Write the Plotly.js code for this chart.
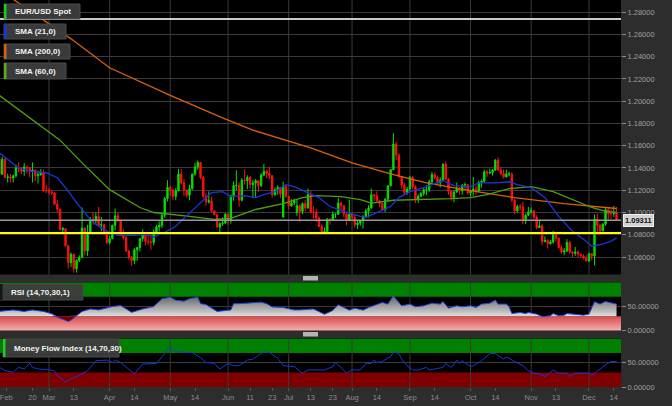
<!DOCTYPE html>
<html><head><meta charset="utf-8">
<script src="https://cdn.plot.ly/plotly-3.0.1.min.js"></script>
<style>html,body{margin:0;padding:0;background:#2d2d2d;overflow:hidden}#chart{width:672px;height:406px}</style>
</head><body><div id="chart"></div>
<script>
// ---------- DATA (EUR/USD daily, Feb 2 - Dec 15 2015) ----------
const FIRST_DAY = '2015-02-02', LAST_DAY = '2015-12-15';
const openP = [
 1.1290,1.1345,1.1480,1.1345,1.1477,1.1315,1.1320,1.1310,1.1330,1.1400,1.1390,1.1370,1.1410,1.1400,1.1375,1.1380,1.1330,1.1340,1.1360,1.1200,
 1.1195,1.1185,1.1175,1.1075,1.1030,1.0845,1.0855,1.0700,1.0550,1.0625,1.0495,1.0570,1.0595,1.0860,1.0655,1.0820,1.0940,1.0925,1.0965,1.0885,1.0890,1.0830,
 1.0730,1.0765,1.0885,1.0970,1.0925,1.0800,1.0775,1.0655,1.0600,1.0570,1.0665,1.0685,1.0765,1.0805,1.0740,1.0735,1.0730,1.0825,1.0870,1.0885,1.0975,1.1125,
 1.1225,1.1200,1.1145,1.1195,1.1345,1.1265,1.1200,1.1155,1.1215,1.1345,1.1410,1.1450,1.1315,1.1145,1.1095,1.1105,1.1015,1.0980,1.0870,1.0900,1.0905,
 1.0985,1.0925,1.1150,1.1240,1.1245,1.1110,1.1290,1.1285,1.1315,1.1250,1.1265,1.1285,1.1240,1.1335,1.1370,1.1350,1.1330,1.1160,1.1205,1.1225,1.0960,1.1235,
 1.1145,1.1060,1.1085,1.1000,1.1060,1.1010,1.1080,1.1040,1.1160,1.1005,1.1005,1.0950,1.0875,1.0825,1.0830,1.0940,1.0930,1.0985,1.0985,1.1085,1.1060,1.0985,1.0930,
 1.0985,1.0955,1.0890,1.0905,1.0925,1.0965,1.1015,1.1040,1.1160,1.1150,1.1105,1.1080,1.1025,1.1120,1.1240,1.1385,1.1615,1.1515,1.1320,1.1245,1.1180,
 1.1210,1.1315,1.1230,1.1120,1.1145,1.1170,1.1205,1.1205,1.1275,1.1340,1.1315,1.1265,1.1290,1.1435,1.1300,1.1190,1.1135,1.1185,1.1220,1.1195,1.1245,1.1250,
 1.1175,1.1195,1.1210,1.1195,1.1270,1.1280,1.1365,1.1355,1.1360,1.1380,1.1470,1.1380,1.1350,1.1320,1.1345,1.1345,1.1110,1.1015,1.1055,1.1050,1.0925,1.0975,
 1.1005,1.1015,1.0960,1.0865,1.0880,1.0740,1.0750,1.0720,1.0735,1.0815,1.0770,1.0685,1.0645,1.0655,1.0730,1.0645,1.0635,1.0645,1.0625,1.0610,1.0590,
 1.0565,1.0630,1.0610,1.0940,1.0885,1.0835,1.0895,1.1025,1.0990,1.0990,1.0995];
const highP = [
 1.1365,1.1534,1.1498,1.1500,1.1488,1.1348,1.1345,1.1340,1.1430,1.1450,1.1410,1.1445,1.1425,1.1410,1.1450,1.1385,1.1375,1.1390,1.1385,1.1245,
 1.1220,1.1205,1.1185,1.1115,1.1035,1.0870,1.0860,1.0710,1.0640,1.0630,1.0580,1.0615,1.1045,1.0865,1.0890,1.0960,1.1000,1.1000,1.1050,1.0960,1.0900,1.0840,
 1.0790,1.0890,1.1035,1.1000,1.0935,1.0850,1.0790,1.0665,1.0605,1.0680,1.0685,1.0770,1.0850,1.0815,1.0790,1.0800,1.0850,1.0890,1.0920,1.0990,1.1140,1.1290,
 1.1240,1.1215,1.1220,1.1390,1.1390,1.1300,1.1205,1.1250,1.1350,1.1445,1.1467,1.1450,1.1330,1.1175,1.1190,1.1145,1.1020,1.0990,1.0915,1.0955,1.0995,
 1.0995,1.1160,1.1280,1.1380,1.1270,1.1310,1.1385,1.1335,1.1330,1.1290,1.1300,1.1290,1.1355,1.1436,1.1385,1.1410,1.1335,1.1225,1.1245,1.1230,1.1278,1.1245,
 1.1150,1.1120,1.1125,1.1120,1.1075,1.1090,1.1110,1.1215,1.1200,1.1055,1.1035,1.0965,1.0895,1.0865,1.0950,1.0950,1.1010,1.0990,1.1130,1.1095,1.1070,1.0995,1.1115,
 1.0995,1.0980,1.0925,1.0930,1.0975,1.1035,1.1065,1.1215,1.1165,1.1190,1.1115,1.1090,1.1130,1.1245,1.1390,1.1714,1.1635,1.1535,1.1325,1.1265,1.1230,
 1.1330,1.1330,1.1245,1.1165,1.1185,1.1220,1.1245,1.1295,1.1365,1.1360,1.1330,1.1315,1.1440,1.1460,1.1310,1.1200,1.1200,1.1270,1.1230,1.1255,1.1270,1.1255,
 1.1205,1.1320,1.1245,1.1285,1.1295,1.1385,1.1385,1.1395,1.1390,1.1480,1.1495,1.1405,1.1385,1.1385,1.1365,1.1360,1.1125,1.1070,1.1075,1.1095,1.0990,1.1050,
 1.1045,1.1025,1.0975,1.0930,1.0895,1.0785,1.0760,1.0755,1.0835,1.0825,1.0775,1.0705,1.0680,1.0760,1.0745,1.0650,1.0690,1.0660,1.0630,1.0625,1.0620,
 1.0640,1.0635,1.0982,1.0990,1.0895,1.0905,1.1043,1.1045,1.1030,1.1060,1.1050];
const lowP = [
 1.1270,1.1305,1.1340,1.1335,1.1310,1.1270,1.1270,1.1270,1.1315,1.1360,1.1345,1.1330,1.1350,1.1315,1.1270,1.1280,1.1260,1.1330,1.1185,1.1175,
 1.1160,1.1160,1.1065,1.1000,1.0840,1.0820,1.0695,1.0495,1.0510,1.0460,1.0460,1.0555,1.0595,1.0615,1.0610,1.0815,1.0890,1.0900,1.0880,1.0830,1.0800,1.0715,
 1.0715,1.0760,1.0840,1.0920,1.0790,1.0760,1.0645,1.0575,1.0520,1.0535,1.0565,1.0650,1.0740,1.0705,1.0710,1.0665,1.0705,1.0810,1.0830,1.0860,1.0950,1.1100,
 1.1150,1.1110,1.1110,1.1190,1.1250,1.1150,1.1135,1.1110,1.1200,1.1330,1.1385,1.1300,1.1130,1.1060,1.1080,1.1000,1.0975,1.0865,1.0820,1.0880,1.0895,
 1.0890,1.0900,1.1105,1.1200,1.1050,1.1100,1.1250,1.1210,1.1215,1.1130,1.1140,1.1185,1.1230,1.1330,1.1310,1.1300,1.1135,1.1150,1.1160,1.1130,1.0955,1.1135,
 1.1030,1.1050,1.1065,1.0970,1.0915,1.0985,1.1010,1.1035,1.0990,1.0945,1.0915,1.0870,1.0810,1.0810,1.0825,1.0890,1.0925,1.0950,1.0980,1.1010,1.0960,1.0885,1.0920,
 1.0925,1.0865,1.0850,1.0880,1.0855,1.0955,1.0955,1.1035,1.1105,1.1095,1.1050,1.1015,1.1005,1.1100,1.1235,1.1380,1.1470,1.1315,1.1215,1.1155,1.1160,
 1.1205,1.1210,1.1085,1.1085,1.1140,1.1150,1.1155,1.1185,1.1265,1.1300,1.1245,1.1225,1.1285,1.1290,1.1160,1.1105,1.1090,1.1175,1.1160,1.1160,1.1215,1.1160,
 1.1145,1.1150,1.1160,1.1180,1.1225,1.1265,1.1320,1.1345,1.1330,1.1375,1.1375,1.1335,1.1305,1.1315,1.1325,1.1095,1.0985,1.1000,1.1015,1.0895,1.0895,1.0970,
 1.0990,1.0940,1.0850,1.0860,1.0705,1.0730,1.0675,1.0710,1.0720,1.0740,1.0675,1.0630,1.0615,1.0645,1.0630,1.0600,1.0610,1.0600,1.0595,1.0580,1.0560,
 1.0555,1.0570,1.0525,1.0800,1.0795,1.0830,1.0880,1.0925,1.0940,1.0960,1.0925];
const closeP = [
 1.1345,1.1480,1.1345,1.1477,1.1315,1.1320,1.1310,1.1330,1.1400,1.1390,1.1370,1.1410,1.1400,1.1375,1.1380,1.1330,1.1340,1.1360,1.1200,1.1195,
 1.1185,1.1175,1.1075,1.1030,1.0845,1.0855,1.0700,1.0550,1.0625,1.0495,1.0570,1.0595,1.0860,1.0655,1.0820,1.0940,1.0925,1.0965,1.0885,1.0890,1.0830,1.0730,
 1.0765,1.0885,1.0970,1.0925,1.0800,1.0775,1.0655,1.0600,1.0570,1.0665,1.0685,1.0765,1.0805,1.0740,1.0735,1.0730,1.0825,1.0870,1.0885,1.0975,1.1125,1.1225,
 1.1200,1.1145,1.1195,1.1345,1.1265,1.1200,1.1155,1.1215,1.1345,1.1410,1.1450,1.1315,1.1145,1.1095,1.1105,1.1015,1.0980,1.0870,1.0900,1.0905,1.0985,
 1.0925,1.1150,1.1240,1.1245,1.1110,1.1290,1.1285,1.1315,1.1250,1.1265,1.1285,1.1240,1.1335,1.1370,1.1350,1.1330,1.1160,1.1205,1.1225,1.1165,1.1235,1.1145,
 1.1060,1.1085,1.1105,1.1060,1.1010,1.1080,1.1040,1.1160,1.1005,1.1005,1.0950,1.0875,1.0825,1.0830,1.0940,1.0930,1.0985,1.0985,1.1085,1.1060,1.0985,1.0930,1.0985,
 1.0955,1.0890,1.0905,1.0925,1.0965,1.1015,1.1040,1.1160,1.1150,1.1105,1.1080,1.1025,1.1120,1.1240,1.1385,1.1615,1.1515,1.1320,1.1245,1.1180,1.1210,
 1.1315,1.1230,1.1120,1.1145,1.1170,1.1205,1.1205,1.1275,1.1340,1.1315,1.1265,1.1290,1.1435,1.1300,1.1190,1.1135,1.1185,1.1220,1.1195,1.1245,1.1250,1.1175,
 1.1195,1.1210,1.1195,1.1270,1.1280,1.1365,1.1355,1.1360,1.1380,1.1470,1.1380,1.1350,1.1320,1.1345,1.1345,1.1110,1.1015,1.1055,1.1050,1.0925,1.0975,1.1005,
 1.1015,1.0960,1.0865,1.0880,1.0740,1.0750,1.0720,1.0735,1.0815,1.0770,1.0685,1.0645,1.0655,1.0730,1.0645,1.0635,1.0645,1.0625,1.0610,1.0590,1.0565,
 1.0630,1.0610,1.0940,1.0885,1.0835,1.0895,1.1025,1.0990,1.0990,1.0995,1.09311];

// indicator samples: trading-day number (0 = Feb 2) and value
const sma21Day = [2,6,9,14,19,23,26,30,34,37,41,45,50,55,58,62,66,69,73,77,79,83,86,91,95,98,102,106,109,114,118,122,127,133,135,140,144,147,151,156,161,163,167,173,176,182,187,190,195,200,205,210,215,217,221,224,226];
const sma21Val = [1.1535,1.1455,1.1400,1.1366,1.1357,1.1312,1.1223,1.1090,1.0965,1.0893,1.0831,1.0795,1.0795,1.0804,1.0780,1.0822,1.0876,1.0947,1.1045,1.1134,1.1178,1.1187,1.1143,1.1152,1.1134,1.1160,1.1187,1.1250,1.1232,1.1180,1.1134,1.1054,1.1010,1.0965,1.0956,1.1010,1.1054,1.1134,1.1187,1.1223,1.1267,1.1285,1.1241,1.1232,1.1267,1.1267,1.1276,1.1250,1.1223,1.1134,1.0965,1.0831,1.0742,1.0697,1.0715,1.0742,1.0772];
const sma60Day = [2,19,24,32,42,53,58,71,80,86,95,105,112,117,126,133,137,145,157,166,173,179,187,195,203,210,217,222,226];
const sma60Val = [1.2052,1.1740,1.1650,1.1446,1.1205,1.1045,1.1000,1.0965,1.0938,1.0947,1.1027,1.1080,1.1134,1.1152,1.1143,1.1116,1.1085,1.1110,1.1116,1.1125,1.1134,1.1160,1.1214,1.1232,1.1187,1.1116,1.1045,1.1010,1.1000];
const sma200Day = [2,16,28,42,64,83,94,115,130,144,157,173,189,207,219,226];
const sma200Val = [1.3000,1.2760,1.2560,1.2300,1.2052,1.1850,1.1740,1.1580,1.1446,1.1348,1.1267,1.1196,1.1134,1.1080,1.1054,1.1036];
const rsiDay = [2,7,11,14,18,21,23,27,28,30,32,35,38,43,46,50,54,58,61,64,66,69,71,74,75,77,81,86,87,89,92,97,99,101,105,109,111,116,120,123,125,127,129,131,134,136,139,141,143,144,145,146,148,151,153,156,159,162,163,165,168,170,173,175,177,180,182,183,186,187,188,191,193,194,197,199,202,203,205,207,208,210,214,216,218,220,222,225,226];
const rsiVal = [40,43,40,43,40,35,28,19,22,31,40,45,43,50,52,38,45,50,66,69,63,61,66,69,56,54,40,43,56,56,57,59,56,49,48,43,43,45,34,42,53.6,48,42.6,46.7,42.6,48,55,58.4,55,65,72,65,51.5,55,49.5,51.5,57,55,60.4,46.7,51.5,49.5,51.5,48,55,57,63.2,55,55,49.5,35.7,37.8,35.7,37.8,34.4,28.9,30.9,35.7,30.9,32.3,35.7,34.4,32.3,34.4,59.8,55,60.4,56.3,55];
const mfiDay = [2,4,7,9,11,13,14,16,19,22,23,26,28,31,34,37,41,43,44,46,51,54,59,64,66,72,75,77,80,82,85,87,89,92,94,98,100,103,105,109,112,114,120,123,124,126,128,130,133,135,137,138,139,141,143,144,145,147,148,150,152,154,157,158,160,163,164,166,168,169,170,173,174,177,180,182,185,186,189,192,194,196,198,200,203,205,208,209,211,216,217,220,222,224,226];
const mfiVal = [40.5,33.8,30.4,40.5,37.2,48.6,40.5,37.2,35.8,33.8,23.7,10.1,17,23.7,33.8,54,55.5,50.6,55.5,50.6,27,47.4,48.6,82.4,72.9,70.9,60.7,50.6,48.6,37.2,48.6,43.9,43.9,55.5,57.5,72.9,70.9,59.5,43.9,41.9,28.3,35.2,35.2,41.9,50.6,40.5,28.3,35.2,35.2,48.6,48.6,55.5,50.6,52.6,59.5,62.1,72.9,68.8,57.5,43.9,35.2,35.2,40.5,35.2,37.2,40.5,48.6,40.5,55.5,48.6,54,41.9,43.9,54,68.8,68.8,57.5,62.1,52.6,43.9,33.8,28.3,27,21.7,35.2,28.3,28.3,21.7,28.3,28.3,23.7,37.2,45.9,52.6,52.6];

const levelWhite = 1.2738, levelYellow = 1.0815;
const rsiBands = {low: 30, high: 70}, mfiBands = {low: 30, high: 70};
const tickDates = ['2015-02-06 12:00','2015-02-20','2015-03-02','2015-03-13','2015-04-01','2015-04-14','2015-05-01','2015-05-14','2015-06-01','2015-06-11','2015-06-23','2015-07-01','2015-07-13','2015-07-23','2015-08-03','2015-08-14','2015-09-01','2015-09-14','2015-10-01','2015-10-14','2015-11-02','2015-11-13','2015-12-01','2015-12-14'];
const tickText = ['Feb','20','Mar','13','Apr','14','May','14','Jun','11','23','Jul','13','23','Aug','14','Sep','14','Oct','14','Nov','13','Dec','14'];
const monthStarts = ['2015-03-02','2015-04-01','2015-05-01','2015-06-01','2015-07-01','2015-08-03','2015-09-01','2015-10-01','2015-11-02','2015-12-01'];
const legendNames = ['EUR/USD Spot','SMA (21,0)','SMA (200,0)','SMA (60,0)'];

// ---------- BUILD ----------
function tradingDays(start, end){
  const out=[]; let d=new Date(start+'T00:00:00Z'); const e=new Date(end+'T00:00:00Z');
  while(d<=e){ const wd=d.getUTCDay(); if(wd!==0&&wd!==6) out.push(d.toISOString().slice(0,10)); d=new Date(d.getTime()+86400000); }
  return out;
}
const days = tradingDays(FIRST_DAY, LAST_DAY);
const dx = idx => idx.map(i => days[i]);
const lastPrice = closeP[closeP.length-1];

const W=672,H=406,MR=51,MB=19;
const PW=W-MR, PH=H-MB;
const px = p => p/PW, py = p => (PH-p)/PH;
const xRange = ['2015-02-04 05:08','2015-12-16 14:50'];

const FONT = 'Liberation Sans, Arial, sans-serif';
const C = {green:'#00e000', red:'#ff1010', blue:'#1a36d8', orange:'#d9600f', olive:'#4f9e14', grid:'#3a3a3a', tick:'#a0a0a0'};

const traces = [];
traces.push({type:'candlestick', x:days, open:openP, high:highP, low:lowP, close:closeP, xaxis:'x', yaxis:'y',
  increasing:{line:{color:C.green,width:1}, fillcolor:C.green},
  decreasing:{line:{color:C.red,width:1}, fillcolor:C.red}, whiskerwidth:0, hoverinfo:'skip'});
traces.push({type:'scatter', mode:'lines', x:dx(sma200Day), y:sma200Val, line:{color:C.orange,width:1.3}, xaxis:'x', yaxis:'y'});
traces.push({type:'scatter', mode:'lines', x:dx(sma60Day), y:sma60Val, line:{color:C.olive,width:1.3}, xaxis:'x', yaxis:'y'});
traces.push({type:'scatter', mode:'lines', x:dx(sma21Day), y:sma21Val, line:{color:C.blue,width:1.3}, xaxis:'x', yaxis:'y'});

// RSI panel
const rsiX = dx(rsiDay);
const base30 = {type:'scatter', mode:'lines', x:[rsiX[0],rsiX[rsiX.length-1]], y:[rsiBands.low,rsiBands.low], line:{width:0}, xaxis:'x', yaxis:'y2'};
traces.push({type:'scatter', mode:'lines', x:xRange, y:[rsiBands.low,rsiBands.low], fill:'tozeroy', line:{width:0},
  fillcolor:'#e87070', fillgradient:{type:'vertical', start:0, stop:rsiBands.low, colorscale:[[0,'#f6b0b0'],[1,'#d84a4a']]}, xaxis:'x', yaxis:'y2'});
traces.push(Object.assign({}, base30));
traces.push({type:'scatter', mode:'lines', x:rsiX, y:rsiVal.map(v=>Math.max(v,rsiBands.low)), fill:'tonexty', line:{width:0}, fillcolor:'#a8a8a8',
  fillgradient:{type:'vertical', start:rsiBands.low, stop:75, colorscale:[[0,'rgba(222,222,222,1)'],[1,'rgba(110,110,110,0.85)']]}, xaxis:'x', yaxis:'y2'});
traces.push(Object.assign({}, base30));
traces.push({type:'scatter', mode:'lines', x:rsiX, y:rsiVal.map(v=>Math.min(v,rsiBands.low)), fill:'tonexty', line:{width:0}, fillcolor:'#6e0000', xaxis:'x', yaxis:'y2'});
traces.push({type:'scatter', mode:'lines', x:rsiX, y:rsiVal, line:{color:'#2244ee',width:1}, xaxis:'x', yaxis:'y2'});

// MFI panel
traces.push({type:'scatter', mode:'lines', x:dx(mfiDay), y:mfiVal, line:{color:'#1a36d8',width:1}, xaxis:'x', yaxis:'y3'});

const shapes = [];
shapes.push({type:'rect', xref:'x domain', x0:0, x1:1, yref:'y2', y0:rsiBands.high, y1:100, fillcolor:'#008000', line:{width:0}, layer:'below'});
shapes.push({type:'rect', xref:'x domain', x0:0, x1:1, yref:'y3', y0:mfiBands.high, y1:100, fillcolor:'#008000', line:{width:0}, layer:'below'});
shapes.push({type:'rect', xref:'x domain', x0:0, x1:1, yref:'y3', y0:0, y1:mfiBands.low, fillcolor:'#800000', line:{width:0}, layer:'below'});
monthStarts.forEach(d => ['y','y2','y3'].forEach(ax => shapes.push({type:'line', xref:'x', x0:d, x1:d, yref:ax+' domain', y0:0, y1:1, line:{color:C.grid,width:1}, layer:'below'})));
shapes.push({type:'line', xref:'x domain', x0:0, x1:1, yref:'y', y0:levelWhite, y1:levelWhite, line:{color:'#c8c8c8',width:2}, layer:'above'});
shapes.push({type:'line', xref:'x domain', x0:0, x1:1, yref:'y', y0:lastPrice, y1:lastPrice, line:{color:'#9a9a9a',width:1.5}, layer:'above'});
shapes.push({type:'line', xref:'x domain', x0:0, x1:1, yref:'y', y0:levelYellow, y1:levelYellow, line:{color:'#ffff00',width:2}, layer:'above'});
[[276,280.5],[332,336.5]].forEach(([a,b]) => shapes.push({type:'rect', xref:'paper', yref:'paper', x0:px(303), x1:px(318), y0:py(b), y1:py(a), fillcolor:'#b4b4b4', line:{width:0}, layer:'above'}));

const annotations = [];
const legendColors = ['#10d010', C.blue, C.orange, '#55b014'];
const boxes = [[4,80,4,19],[4,66,24,39],[4,70,44,59],[4,66,63,79]];
function legendBox(b, color, text){
  shapes.push({type:'rect', xref:'paper', yref:'paper', x0:px(b[0]), x1:px(b[1]), y0:py(b[3]), y1:py(b[2]), fillcolor:'rgba(60,60,60,0.96)', line:{color:'#4a4a4a',width:1}, layer:'above'});
  shapes.push({type:'rect', xref:'paper', yref:'paper', x0:px(b[0]), x1:px(b[0]+2.5), y0:py(b[3]), y1:py(b[2]), fillcolor:color, line:{width:0}, layer:'above'});
  annotations.push({xref:'paper', yref:'paper', x:px(b[0]+9), y:py((b[2]+b[3])/2), xanchor:'left', yanchor:'middle', text:text, showarrow:false, font:{family:FONT,size:8,color:'#f2f2f2',weight:'bold'}});
}
legendNames.forEach((n,i) => legendBox(boxes[i], legendColors[i], n));
legendBox([0,83,284,300], '#151515', 'RSI (14,70,30,1)');
legendBox([3,119,339,357], '#22cc22', 'Money Flow Index (14,70,30)');

annotations.push({xref:'paper', yref:'y', x:px(623), y:lastPrice, xanchor:'left', yanchor:'middle', text:lastPrice.toFixed(5), showarrow:false,
  bgcolor:'#d2d2d2', bordercolor:'#eeeeee', borderwidth:1, borderpad:1, font:{family:FONT,size:7.5,color:'#111',weight:'bold'}});

const yCommon = {side:'right', anchor:'x', ticks:'outside', ticklen:4, tickcolor:'#8a8a8a', tickfont:{family:FONT,size:7.5,color:C.tick}, gridcolor:C.grid, gridwidth:1, zeroline:false, showline:false, fixedrange:true};
const layout = {
  width:W, height:H, margin:{l:0,r:MR,t:0,b:MB}, paper_bgcolor:'#2d2d2d', plot_bgcolor:'#000000', showlegend:false, hovermode:false,
  font:{family:FONT},
  xaxis:{type:'date', range:xRange, rangebreaks:[{bounds:['sat','mon']}], rangeslider:{visible:false}, anchor:'y3', showgrid:false, zeroline:false,
    tickmode:'array', tickvals:tickDates, ticktext:tickText, ticks:'outside', ticklen:3, tickcolor:'#555', ticklabeloverflow:'allow',
    tickfont:{family:FONT,size:7.5,color:'#8c8c8c'}, fixedrange:true},
  yaxis:Object.assign({}, yCommon, {domain:[py(274.5),1], range:[1.0443,1.2909], tick0:1.06, dtick:0.02, tickformat:'.5f'}),
  yaxis2:Object.assign({}, yCommon, {domain:[py(330.8),py(282.3)], range:[0,100], tickmode:'array', tickvals:[0,50], ticktext:['0.00000','50.00000']}),
  yaxis3:Object.assign({}, yCommon, {domain:[0,py(338.5)], range:[0,100], tickmode:'array', tickvals:[0,50], ticktext:['0.00000','50.00000']}),
  shapes:shapes, annotations:annotations
};
Plotly.newPlot('chart', traces, layout, {staticPlot:true, displayModeBar:false});
</script>
</body></html>
